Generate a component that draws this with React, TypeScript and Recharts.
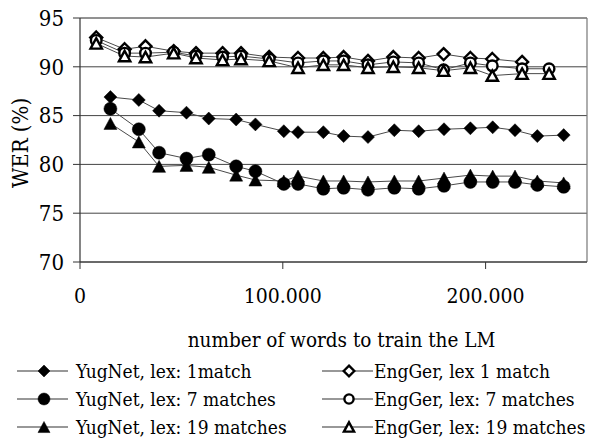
import { LineChart, Line, XAxis, YAxis, CartesianGrid, ReferenceLine } from "recharts";

// x values in thousands of words
const yugWords = [15, 29, 39, 52.5, 63.5, 77, 86.5, 100.5, 107.5, 120, 130, 142, 155, 167, 179.5, 192.5, 203.5, 214.5, 225.5, 238.5];
const engWords = [8, 22, 32.3, 46.2, 57.2, 70.3, 79.4, 93.3, 107.5, 120, 130, 142, 154.5, 167, 179.3, 192.5, 203.3, 218, 231.3];

const yug1Match = [86.9, 86.6, 85.5, 85.3, 84.7, 84.6, 84.1, 83.4, 83.3, 83.3, 82.9, 82.8, 83.5, 83.4, 83.6, 83.7, 83.8, 83.5, 82.9, 83.0];
const yug7Matches = [85.7, 83.6, 81.2, 80.6, 81.0, 79.8, 79.3, 78.0, 78.0, 77.5, 77.6, 77.4, 77.6, 77.5, 77.8, 78.2, 78.2, 78.2, 77.9, 77.7];
const yug19Matches = [84.2, 82.3, 79.8, 79.9, 79.7, 78.9, 78.4, 78.3, 78.8, 78.3, 78.3, 78.2, 78.3, 78.3, 78.6, 78.9, 78.8, 78.8, 78.3, 78.1];

const eng1Match = [93.0, 91.8, 92.1, 91.6, 91.4, 91.4, 91.4, 91.0, 90.9, 90.9, 91.0, 90.6, 91.0, 90.9, 91.3, 90.9, 90.8, 90.5];
const eng7Matches = [92.7, 91.4, 91.4, 91.5, 91.1, 91.0, 91.1, 90.8, 90.4, 90.6, 90.6, 90.2, 90.5, 90.4, 89.7, 90.4, 90.1, 89.8, 89.8];
const eng19Matches = [92.4, 91.1, 91.0, 91.4, 90.9, 90.7, 90.8, 90.6, 89.9, 90.2, 90.2, 89.9, 90.0, 89.9, 89.6, 89.9, 89.1, 89.3, 89.3];

const yTicks = [70, 75, 80, 85, 90, 95];
const xTicks = [0, 100000, 200000];

type Shape = "diamond" | "circle" | "triangle";

const toPoints = (words: number[], wer: number[]) =>
  wer.map((v, i) => ({ words: words[i] * 1000, wer: v }));

const series = [
  { name: "YugNet, lex: 1match", data: toPoints(yugWords, yug1Match), shape: "diamond" as Shape, open: false },
  { name: "YugNet, lex: 7 matches", data: toPoints(yugWords, yug7Matches), shape: "circle" as Shape, open: false },
  { name: "YugNet, lex: 19 matches", data: toPoints(yugWords, yug19Matches), shape: "triangle" as Shape, open: false },
  { name: "EngGer, lex 1 match", data: toPoints(engWords, eng1Match), shape: "diamond" as Shape, open: true },
  { name: "EngGer, lex: 7 matches", data: toPoints(engWords, eng7Matches), shape: "circle" as Shape, open: true },
  { name: "EngGer, lex: 19 matches", data: toPoints(engWords, eng19Matches), shape: "triangle" as Shape, open: true },
];

const FONT = "'DejaVu Serif Condensed', 'DejaVu Serif', serif";
const LINE = "#4a4a4a";
const textStyle = { fontStretch: "condensed" as const };

function Marker({ shape, open, x, y, s }: { shape: Shape; open: boolean; x: number; y: number; s: number }) {
  const fill = open ? "#fff" : "#000";
  const stroke = "#000";
  const sw = open ? 2.4 : 0.5;
  if (shape === "diamond") {
    const r = open ? s - 0.5 : s;
    return <polygon points={`${x},${y - r} ${x + r},${y} ${x},${y + r} ${x - r},${y}`} fill={fill} stroke={stroke} strokeWidth={sw} />;
  }
  if (shape === "circle") {
    return <circle cx={x} cy={y} r={open ? s - 1.2 : s} fill={fill} stroke={stroke} strokeWidth={sw} />;
  }
  const h = open ? s * 1.6 : s * 1.85;
  const w = open ? s * 1.75 : s * 2;
  return (
    <polygon
      points={`${x},${y - h / 2} ${x + w / 2},${y + h / 2} ${x - w / 2},${y + h / 2}`}
      fill={fill}
      stroke={stroke}
      strokeWidth={sw}
    />
  );
}

const makeDot = (shape: Shape, open: boolean, tag: string) =>
  // eslint-disable-next-line @typescript-eslint/no-explicit-any
  (props: any) => {
    const { cx, cy, index } = props;
    if (cx == null || cy == null) return <g key={`${tag}-${index}`} />;
    return <Marker key={`${tag}-${index}`} shape={shape} open={open} x={cx} y={cy} s={6.5} />;
  };

// eslint-disable-next-line @typescript-eslint/no-explicit-any
function YTitle({ viewBox }: any) {
  const cx = viewBox.x + 28;
  const cy = viewBox.y + viewBox.height / 2 + 3;
  return (
    <text x={cx} y={cy} transform={`rotate(-90 ${cx} ${cy})`} textAnchor="middle" fontSize={22} fontFamily={FONT} style={textStyle} fill="#000">
      WER (%)
    </text>
  );
}

// eslint-disable-next-line @typescript-eslint/no-explicit-any
function XTitle({ viewBox }: any) {
  return (
    <text x={viewBox.x + viewBox.width / 2 + 8} y={viewBox.y + 85} textAnchor="middle" fontSize={20.5} fontFamily={FONT} style={textStyle} fill="#000">
      number of words to train the LM
    </text>
  );
}

function LegendItem({ name, shape, open, left, textLeft, top }: { name: string; shape: Shape; open: boolean; left: number; textLeft: number; top: number }) {
  return (
    <>
      <svg style={{ position: "absolute", left, top, width: 56, height: 28, overflow: "visible" }}>
        <line x1={2} y1={14} x2={53} y2={14} stroke="#333" strokeWidth={1.2} />
        <Marker shape={shape} open={open} x={29} y={14} s={open ? 5.8 : 6} />
      </svg>
      <div
        style={{
          position: "absolute",
          left: textLeft,
          top,
          height: 28,
          lineHeight: "28px",
          fontSize: 19,
          fontFamily: FONT,
          fontStretch: "condensed",
          color: "#000",
          whiteSpace: "nowrap",
        }}
      >
        {name}
      </div>
    </>
  );
}

export default function App() {
  const legendTop = 357;
  const xTickStyle = { fill: "#000", fontSize: 21, fontFamily: FONT, style: textStyle };
  const yTickStyle = { fill: "#000", fontSize: 22, fontFamily: FONT, style: textStyle };
  return (
    <div style={{ position: "absolute", left: 0, top: 0, width: 589, height: 438, background: "#fff", overflow: "hidden" }}>
      <LineChart width={589} height={438} margin={{ top: 18, right: 2, bottom: 116, left: 0 }}>
        <CartesianGrid vertical={false} stroke="#444" strokeWidth={1} />
        <ReferenceLine y={95} stroke="#8c8c8c" strokeWidth={1.5} />
        <ReferenceLine x={250000} stroke="#777" strokeWidth={1.2} />
        <XAxis
          type="number"
          dataKey="words"
          domain={[0, 250000]}
          ticks={xTicks}
          allowDataOverflow
          tickFormatter={(v: number) => (v === 0 ? "0" : `${v / 1000}.000`)}
          height={60}
          tickSize={7}
          tickMargin={19}
          axisLine={{ stroke: "#333", strokeWidth: 1.2 }}
          tickLine={{ stroke: "#333" }}
          tick={xTickStyle}
          label={<XTitle />}
        />
        <YAxis
          type="number"
          dataKey="wer"
          domain={[70, 95]}
          ticks={yTicks}
          width={80}
          tickSize={7}
          tickMargin={9}
          axisLine={{ stroke: "#333", strokeWidth: 1.2 }}
          tickLine={{ stroke: "#333" }}
          tick={yTickStyle}
          label={<YTitle />}
        />
        {series.map((s, i) => (
          <Line
            key={s.name}
            data={s.data}
            dataKey="wer"
            name={s.name}
            type="linear"
            stroke={LINE}
            strokeWidth={1}
            dot={makeDot(s.shape, s.open, `s${i}`)}
            activeDot={false}
            isAnimationActive={false}
          />
        ))}
      </LineChart>
      {series.map((s, i) => {
        const col = i < 3 ? 0 : 1;
        const row = i % 3;
        return (
          <LegendItem
            key={s.name}
            name={s.name}
            shape={s.shape}
            open={s.open}
            left={col === 0 ? 15 : 320}
            textLeft={col === 0 ? 76 : 374}
            top={legendTop + row * 28}
          />
        );
      })}
    </div>
  );
}
